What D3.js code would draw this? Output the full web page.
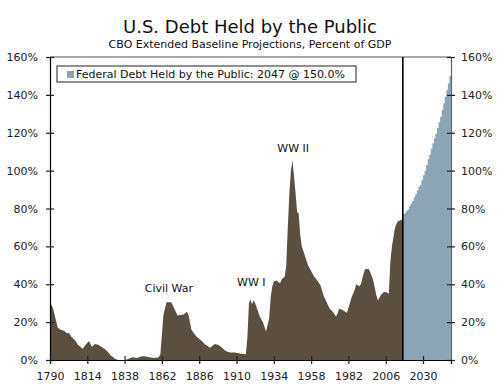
<!doctype html>
<html>
<head>
	<meta charset="utf-8">
	<title>U.S. Debt Held by the Public</title>
	<style>
		body { margin: 0; background: #ffffff; }
		text { font-family: "DejaVu Sans", Verdana, sans-serif; }
	</style>
	<script src="https://cdnjs.cloudflare.com/ajax/libs/d3/7.8.5/d3.min.js"></script>
</head>
<body>
<div id="chart-area"></div>
<script>
	// Historical debt held by the public, percent of GDP
	var histYears = [1790, 1791, 1792, 1795, 1797, 1799, 1801, 1802, 1804, 1806, 1808, 1811, 1813, 1815, 1817, 1819,
		1821, 1823, 1825, 1827, 1829, 1832, 1834, 1839, 1840, 1843, 1846, 1849, 1851, 1854, 1857, 1860,
		1861, 1863, 1865, 1868, 1870, 1872, 1876, 1878, 1879, 1881, 1884, 1887, 1890, 1893, 1896, 1898,
		1900, 1903, 1906, 1909, 1913, 1916, 1917, 1918, 1919, 1920, 1921, 1922, 1925, 1927, 1929, 1931,
		1932, 1933, 1934, 1936, 1937, 1938, 1939, 1941, 1942, 1943, 1944, 1945, 1946, 1947, 1948, 1949,
		1950, 1951, 1952, 1954, 1956, 1958, 1960, 1962, 1964, 1966, 1968, 1970, 1972, 1974, 1975, 1976,
		1978, 1980, 1981, 1982, 1984, 1986, 1987, 1989, 1990, 1992, 1993, 1995, 1996, 1998, 2000, 2001,
		2003, 2005, 2007, 2008, 2009, 2010, 2011, 2012, 2013, 2014, 2015, 2016];
	var histDebt = [30, 29, 27, 17, 16, 15.5, 14, 14.5, 12, 10.5, 8, 6, 8, 10, 7, 8.5,
		8, 7, 6, 4.5, 2.5, 0.5, 0, 0, 0.5, 1.5, 1, 2, 2, 1.5, 1, 1.5,
		3, 24, 30.5, 30.5, 27, 23.5, 24, 25.5, 24, 16, 12.5, 10.5, 8, 6.5, 8.5, 8,
		7, 4.8, 4, 3.9, 3.3, 3, 12, 30, 32, 29.5, 31.5, 30, 23, 20, 15, 22,
		33, 39, 41.5, 42, 41, 40.5, 42.5, 44, 50, 70, 88, 100, 105.5, 97, 88, 78,
		77.5, 66, 60, 55, 50, 47, 44, 42, 39.5, 34, 30.5, 27, 25.5, 23, 24.5, 27,
		26.5, 25.5, 25, 27.5, 33, 37, 40, 39, 40, 46.5, 48, 48, 46.5, 42, 34, 31.5,
		34.5, 36, 35.5, 35, 52, 60, 65, 70, 72, 73.5, 73.5, 74];

	// CBO extended baseline projection, one bar per year
	var projYears = d3.range(2017, 2048);
	var projDebt = [77, 77.5, 78.5, 79.5, 81, 82.5, 84, 86, 87.5, 89.5, 91.5, 92.5, 95, 97.5, 100, 103,
		106, 108.5, 111.5, 114.5, 117, 119.5, 122.5, 125.5, 128.5, 132, 135.5, 139, 142.5, 146, 150];

	var xTicks = [1790, 1814, 1838, 1862, 1886, 1910, 1934, 1958, 1982, 2006, 2030];
	var yTicks = [0, 20, 40, 60, 80, 100, 120, 140, 160];

	var notes = ["Civil War", "WW I", "WW II"];
	var noteYears = [1866.5, 1919.5, 1946.5];
	var noteValues = [36, 39, 110];

	var legendText = "Federal Debt Held by the Public: 2047 @ 150.0%";

	var brown = "#5b4f42", blue = "#8ca4b4";

	var margin = { left: 50, right: 49, top: 57, bottom: 24 },
		width = 500 - margin.left - margin.right,
		height = 384 - margin.top - margin.bottom;

	var svg = d3.select("#chart-area").append("svg")
		.attr("width", 500)
		.attr("height", 384);

	svg.append("text")
		.attr("x", 250).attr("y", 33)
		.attr("text-anchor", "middle")
		.attr("font-size", "18px")
		.attr("fill", "#111")
		.text("U.S. Debt Held by the Public");

	svg.append("text")
		.attr("x", 250).attr("y", 48)
		.attr("text-anchor", "middle")
		.attr("font-size", "11px")
		.attr("fill", "#111")
		.text("CBO Extended Baseline Projections, Percent of GDP");

	var g = svg.append("g")
		.attr("transform", "translate(" + margin.left + "," + margin.top + ")");

	// Scales
	var x = d3.scaleLinear().domain([1790, 2048]).range([0, width]);
	var y = d3.scaleLinear().domain([0, 160]).range([height, 0]);

	// Historical area
	var hist = histYears.map(function(yr, i) { return { year: yr, value: histDebt[i] }; });
	hist.push({ year: 2017, value: histDebt[histDebt.length - 1] });

	var area = d3.area()
		.x(function(d) { return x(d.year); })
		.y0(y(0))
		.y1(function(d) { return y(d.value); });

	g.append("path")
		.attr("fill", brown)
		.attr("d", area(hist));

	// Projection bars (step area)
	var proj = projYears.map(function(yr, i) { return { year: yr, value: projDebt[i] }; });
	proj.push({ year: 2048, value: projDebt[projDebt.length - 1] });

	var stepArea = d3.area()
		.curve(d3.curveStepAfter)
		.x(function(d) { return x(d.year); })
		.y0(y(0))
		.y1(function(d) { return y(d.value); });

	g.append("path")
		.attr("fill", blue)
		.attr("d", stepArea(proj));

	// Frame: top line
	g.append("line")
		.attr("x1", 0).attr("x2", width)
		.attr("y1", 0).attr("y2", 0)
		.attr("stroke", "#555").attr("stroke-width", 1);

	// Divider between history and projection
	g.append("line")
		.attr("x1", x(2017)).attr("x2", x(2017))
		.attr("y1", 0).attr("y2", height)
		.attr("stroke", "#000").attr("stroke-width", 1.6);

	// Axes
	var yLeft = g.append("g")
		.call(d3.axisLeft(y).tickValues(yTicks).tickSize(4).tickPadding(8)
			.tickFormat(function(d) { return d + "%"; }));
	var yRight = g.append("g")
		.attr("transform", "translate(" + width + ",0)")
		.call(d3.axisRight(y).tickValues(yTicks).tickSize(4).tickPadding(6)
			.tickFormat(function(d) { return d + "%"; }));
	var xAxis = g.append("g")
		.attr("transform", "translate(0," + height + ")")
		.call(d3.axisBottom(x).tickValues(xTicks).tickSize(4).tickPadding(8)
			.tickFormat(d3.format("d")));

	yLeft.selectAll(".tick line").attr("x1", 4);
	yRight.selectAll(".tick line").attr("x1", -4);
	xAxis.selectAll(".tick line").attr("y1", -4);

	[yLeft, yRight, xAxis].forEach(function(ax) {
		ax.selectAll("text")
			.attr("font-family", "DejaVu Sans, Verdana, sans-serif")
			.attr("font-size", "11px")
			.attr("fill", "#222");
		ax.selectAll(".tick line").attr("stroke", "#222").attr("stroke-width", 1.2);
	});
	yLeft.select(".domain").attr("stroke", "#000").attr("stroke-width", 1.2);
	xAxis.select(".domain").attr("stroke", "#000").attr("stroke-width", 1.2);
	yRight.select(".domain").attr("stroke", "#666").attr("stroke-width", 1.2);

	// Event labels
	notes.forEach(function(n, i) {
		g.append("text")
			.attr("x", x(noteYears[i]))
			.attr("y", y(noteValues[i]))
			.attr("text-anchor", "middle")
			.attr("font-size", "11px")
			.attr("fill", "#111")
			.text(n);
	});

	// Legend
	var legend = g.append("g")
		.attr("transform", "translate(7,9)");

	legend.append("rect")
		.attr("width", 299).attr("height", 16)
		.attr("fill", "#fff")
		.attr("stroke", "#222").attr("stroke-width", 1);

	legend.append("rect")
		.attr("x", 10).attr("y", 5)
		.attr("width", 7).attr("height", 7)
		.attr("fill", blue);

	legend.append("text")
		.attr("x", 19).attr("y", 12)
		.attr("font-size", "11px")
		.attr("fill", "#111")
		.text(legendText);
</script>
</body>
</html>
